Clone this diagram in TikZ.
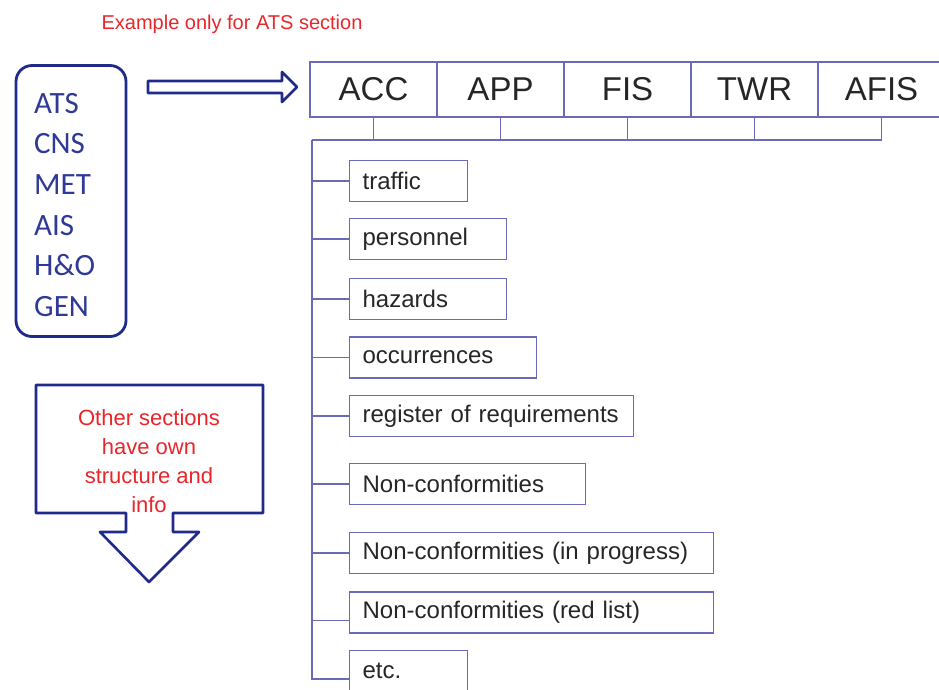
\documentclass[tikz,border=0pt]{standalone}
\usepackage{fontspec}
\setmainfont{Liberation Sans}
\newfontfamily\calibfont{Carlito}
\usetikzlibrary{positioning}
\definecolor{navy}{HTML}{1F2A8A}
\definecolor{slate}{HTML}{6A6AB8}
\definecolor{listblue}{HTML}{2E3A96}
\definecolor{alert}{HTML}{E8262B}

\begin{document}
\begin{tikzpicture}[x=1pt, y=-1pt,
  tab/.style={draw=slate, line width=1.3pt, outer sep=0pt, inner sep=0pt, minimum width=127pt, minimum height=55pt, font=\fontsize{33}{33}\selectfont, text=black!85},
  item/.style={draw=slate, line width=1.3pt, anchor=west, minimum height=41pt, inner xsep=13pt, inner ysep=0pt, align=left, font=\fontsize{24}{24}\selectfont, text=black!85},
  wire/.style={slate, line width=1.3pt},
  fat/.style={navy, line width=2.6pt, line join=round},
  secbox/.style={draw=navy, line width=2.8pt, rounded corners=16pt, minimum width=110pt, minimum height=271pt},
  seclist/.style={inner sep=0pt, align=left, text=listblue, font=\calibfont\fontsize{31}{40.6}\selectfont}]
  \useasboundingbox (0,0) rectangle (939,690);

  \node[text=alert, font=\fontsize{20}{20}\selectfont] (title) at (232,24) {Example only for ATS section};

  % sections
  \node[secbox] (secbox) at (71,201) {};
  \node[seclist, anchor=north west] (seclist) at (34,93) {ATS\\CNS\\MET\\AIS\\H\&O\\GEN};

  \draw[fat, fill=white] (148,81) -- (282,81) -- (282,72) -- (297,87) -- (282,102) -- (282,93) -- (148,93) -- cycle;

  % other sections
  \draw[fat, fill=white] (36,385) -- (263,385) -- (263,513) -- (173,513) -- (173,532) -- (199,532)
    -- (149,582) -- (100,532) -- (126,532) -- (126,513) -- (36,513) -- cycle;
  \node[align=center, text=alert, font=\fontsize{22}{29}\selectfont] (other) at (149,461) {Other sections\\have own\\structure and\\info};

  % units
  \node[tab, anchor=west] (acc) at (310,89.5) {ACC};
  \node[tab, right=0pt of acc] (app) {APP};
  \node[tab, right=0pt of app] (fis) {FIS};
  \node[tab, right=0pt of fis] (twr) {TWR};
  \node[tab, right=0pt of twr] (afis) {AFIS};

  % folders
  \node[item, text width=92pt] (traffic) at (349,181) {traffic};
  \node[item, text width=131pt] (personnel) at (349,239) {personnel};
  \node[item, text width=131pt] (hazards) at (349,299) {hazards};
  \node[item, text width=161pt] (occur) at (349,357.5) {occurrences};
  \node[item, text width=258pt] (register) at (349,416) {register of requirements};
  \node[item, text width=210pt] (nonconf) at (349,484) {Non-conformities};
  \node[item, text width=338pt] (progress) at (349,553) {Non-conformities (in progress)};
  \node[item, text width=338pt] (redlist) at (349,612.5) {Non-conformities (red list)};
  \node[item, text width=92pt] (etc) at (349,671) {etc.};

  \coordinate (spinetop) at (312,140);
  \coordinate (redtap) at ([yshift=-8pt]redlist.west);
  \coordinate (etctap) at ([yshift=-8pt]etc.west);

  \draw[wire] (spinetop) -| (afis.south);
  \foreach \t in {acc,app,fis,twr}
    \draw[wire] (\t.south) -- (\t.south |- spinetop);
  \draw[wire] (spinetop) |- (etctap);
  \foreach \n in {traffic,personnel,hazards,occur,register,nonconf,progress}
    \draw[wire] (spinetop |- \n.west) -- (\n.west);
  \draw[wire] (spinetop |- redtap) -- (redtap);
\end{tikzpicture}
\end{document}
